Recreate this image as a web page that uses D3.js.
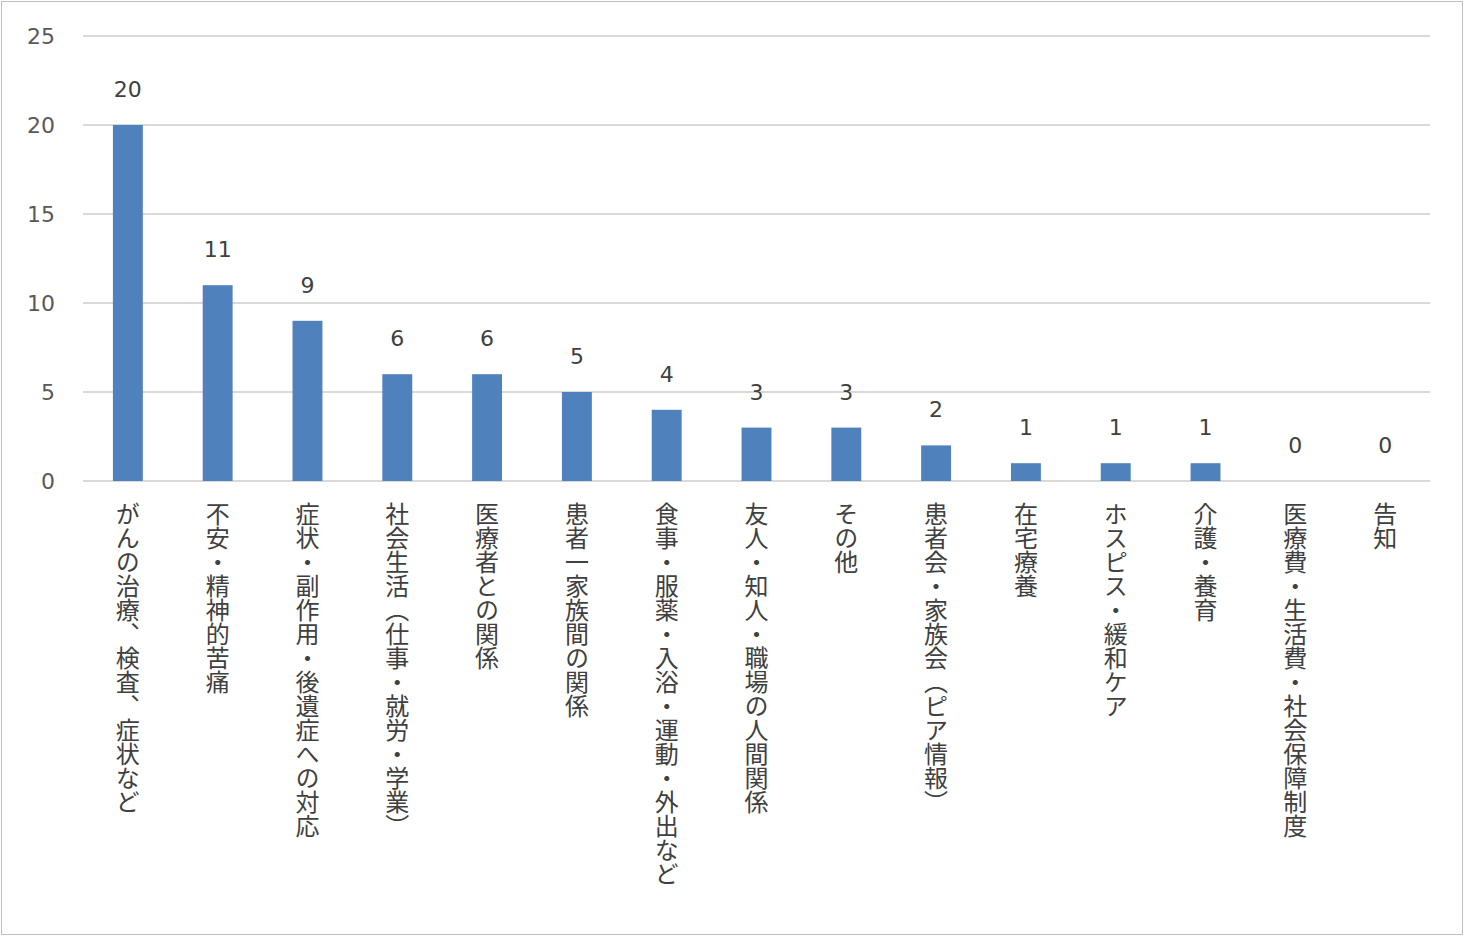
<!DOCTYPE html>
<html><head><meta charset="utf-8">
<script src="https://cdn.jsdelivr.net/npm/d3@7"></script>
<style>body{margin:0;background:#fff}</style>
</head><body>
<svg id="c" width="1464" height="936"></svg>
<script>
const categories=["がんの治療、検査、症状など","不安・精神的苦痛","症状・副作用・後遺症への対応","社会生活（仕事・就労・学業）","医療者との関係","患者一家族間の関係","食事・服薬・入浴・運動・外出など","友人・知人・職場の人間関係","その他","患者会・家族会（ピア情報）","在宅療養","ホスピス・緩和ケア","介護・養育","医療費・生活費・社会保障制度","告知"];
const values=[20,11,9,6,6,5,4,3,3,2,1,1,1,0,0];
const yTicks=[0,5,10,15,20,25];
const svg=d3.select("#c");
svg.append("rect").attr("x",1.5).attr("y",1.5).attr("width",1461).attr("height",933).attr("fill","#fff").attr("stroke","#bfbfbf");
const x=d3.scaleBand().domain(categories).range([83,1430]).paddingInner(0.667).paddingOuter(0.333);
const y=d3.scaleLinear().domain([0,25]).range([481,36]);
const g=svg.append("g");
g.selectAll("line.grid").data(yTicks).join("line").attr("x1",83).attr("x2",1430)
 .attr("y1",d=>y(d)).attr("y2",d=>y(d)).attr("stroke","#d9d9d9").attr("stroke-width",2);
g.selectAll("text.yt").data(yTicks).join("text").attr("x",55).attr("y",d=>y(d)+8).attr("text-anchor","end")
 .attr("font-family","DejaVu Sans").attr("font-size",22).attr("fill","#595959").text(d=>d);
g.selectAll("rect.bar").data(values).join("rect").attr("x",(d,i)=>x(categories[i])).attr("width",x.bandwidth())
 .attr("y",d=>y(d)).attr("height",d=>y(0)-y(d)).attr("fill","#4f81bd");
g.selectAll("text.v").data(values).join("text").attr("x",(d,i)=>x(categories[i])+x.bandwidth()/2).attr("y",d=>y(d)-28)
 .attr("text-anchor","middle").attr("font-family","DejaVu Sans").attr("font-size",22).attr("fill","#404040").text(d=>d);
g.selectAll("text.cat").data(categories).join("text")
 .attr("transform",d=>`translate(${x(d)+x.bandwidth()/2},502)`)
 .style("writing-mode","vertical-rl").attr("font-family","Noto Sans CJK JP").attr("font-size",24).attr("fill","#404040")
 .text(d=>d);
</script>
</body></html>
